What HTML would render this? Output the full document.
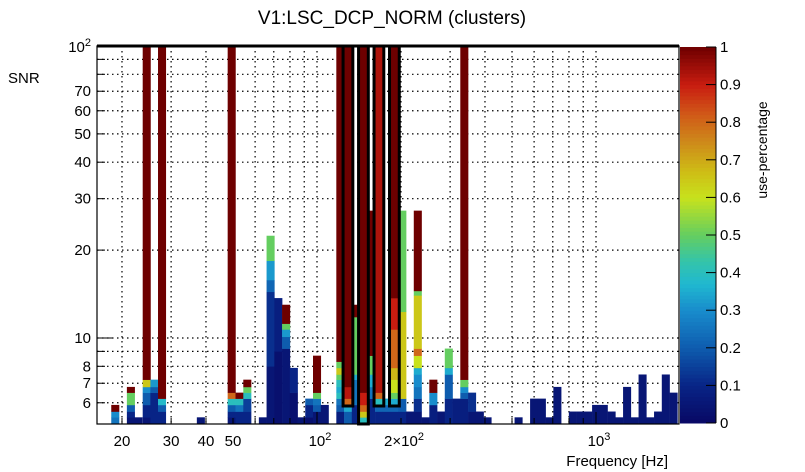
<!DOCTYPE html>
<html><head><meta charset="utf-8"><style>
body{margin:0;background:#fff;}
svg{display:block;font-family:"Liberation Sans",sans-serif;}
</style></head><body>
<svg id="chart" width="805" height="472" viewBox="0 0 805 472" xmlns="http://www.w3.org/2000/svg">
<rect width="805" height="472" fill="#fff"/>
<text x="392" y="24" font-size="19" text-anchor="middle">V1:LSC_DCP_NORM (clusters)</text>
<text x="8" y="83" font-size="15">SNR</text>
<text x="668" y="466" font-size="15" text-anchor="end">Frequency [Hz]</text>
<text transform="translate(767,150) rotate(-90)" font-size="14" text-anchor="middle">use-percentage</text>
<g id="grid"></g><g id="cells"></g><g id="boxes"></g><g id="axes"></g><g id="cbar"></g>
</svg>
<script>
const binFreqs=[18.9,21.5,22.9,24.5,26.1,27.8,38.3,49.4,52.7,56.2,63.9,68.1,72.6,77.4,82.5,87.9,93.7,99.9,106.5,121.1,129.1,137.6,146.7,156.3,166.7,177.7,189.4,202.0,215.3,229.5,244.7,260.9,278.1,296.4,316.0,336.9,359.2,382.9,408.1,527.2,599.3,638.9,681.1,726.2,825.2,879.7,937.7,999.6,1065,1136,1211,1291,1376,1467,1564,1667,1777,1895];
const binSegs=[
[[5.35,0.25],[5.6,0.3],[5.9,1]],
[[5.35,0.05],[5.6,0.1],[5.9,0.2],[6.5,0.5],[6.8,1]],
[[5.35,0.05]],
[[5.35,0.05],[5.9,0.1],[6.5,0.2],[6.8,0.3],[7.2,0.65],[100,1]],
[[6.5,0.1],[6.8,0.2],[7.2,0.32]],
[[5.6,0.1],[5.9,0.2],[6.2,0.38],[100,1]],
[[5.35,0.05]],
[[5.35,0.05],[5.6,0.1],[5.9,0.2],[6.2,0.4],[6.5,0.8],[100,1]],
[[5.6,0.1],[5.9,0.25],[6.2,0.4],[6.5,1]],
[[5.6,0.1],[6.2,0.15],[6.5,0.4],[6.8,0.5],[7.2,1]],
[[5.35,0.05]],
[[8,0.05],[14.4,0.12],[15.8,0.22],[18.4,0.32],[22.4,0.5]],
[[9,0.03],[13.7,0.08]],
[[9.2,0.05],[10.1,0.2],[10.7,0.32],[11.2,0.5],[13.0,1]],
[[6.5,0.03],[7.9,0.1]],
[[5.35,0.05]],
[[5.35,0.03],[5.9,0.1],[6.2,0.2]],
[[5.6,0.05],[5.9,0.2],[6.2,0.25],[6.5,0.5],[8.7,1]],
[[5.9,0.05]],
[[5.6,0.08],[5.9,0.2],[6.2,0.25],[6.5,0.4],[6.8,0.35],[7.2,0.4],[7.5,0.5],[7.9,0.65],[8.3,0.5],[100,1]],
[[5.6,0.2],[5.9,0.35],[6.2,0.8],[6.8,0.92],[100,1]],
[[5.9,0.1],[7.2,0.25],[7.5,0.35],[11.8,0.5],[13.0,1]],
[[5.35,0.4],[5.6,0.65],[5.9,0.8],[6.5,0.9],[100,1]],
[[6.2,0.1],[6.8,0.25],[7.5,0.35],[8.7,0.5],[27.3,1]],
[[5.6,0.1],[5.9,0.22],[6.2,0.4],[6.5,0.8],[100,0.93]],
[[5.6,0.1],[5.9,0.22],[6.2,0.35]],
[[5.6,0.1],[5.9,0.22],[6.2,0.35],[6.5,0.5],[7.2,0.6],[7.9,0.68],[10.7,0.8],[13.7,0.9],[100,1]],
[[5.6,0.1],[6.2,0.2],[12.3,0.65],[27.3,0.5]],
[[5.6,0.05]],
[[5.6,0.05],[6.2,0.12],[6.8,0.25],[7.5,0.3],[7.9,0.35],[8.7,0.6],[9.2,0.8],[14.0,0.65],[14.5,0.5],[27.3,1]],
[[5.35,0.05]],
[[5.9,0.08],[6.5,0.3],[7.2,1]],
[[5.6,0.05]],
[[6.2,0.1],[7.5,0.2],[7.9,0.35],[9.2,0.5]],
[[6.2,0.08]],
[[6.2,0.08],[6.5,0.2],[6.8,0.3],[7.2,0.5],[100,1]],
[[5.6,0.05],[6.5,0.12]],
[[5.6,0.05]],
[[5.35,0.05]],
[[5.35,0.05]],
[[6.2,0.05]],
[[6.2,0.05]],
[[5.35,0.05]],
[[6.8,0.05]],
[[5.6,0.05]],[[5.6,0.05]],[[5.6,0.05]],
[[5.9,0.05]],[[5.9,0.05]],
[[5.6,0.05]],
[[5.35,0.05]],
[[6.8,0.05]],
[[5.35,0.05]],
[[7.5,0.05]],
[[5.35,0.05]],
[[5.6,0.05]],
[[7.5,0.05]],
[[6.5,0.05]]
];
const boxFreqs=[129.1,146.7,166.7,189.4];
const boxLows=[5.85,5.077,5.85,5.85];
const yGridVals=[6,7,8,9,10,20,30,40,50,60,70,80,90];
const yLabelVals=[6,7,8,10,20,30,40,50,60,70];
const xGridVals=[20,30,40,50,60,70,80,90,100,200,300,400,500,600,700,800,900,1000];
const xLabelVals=[20,30,40,50];
const cbarTicks=[0,0.1,0.2,0.3,0.4,0.5,0.6,0.7,0.8,0.9,1];

const NS="http://www.w3.org/2000/svg";
const L=97,R=679,T=46,B=424,BW=7.75;
const xS=f=>317+279*(Math.log10(f)-2);
const yS=s=>Math.min(B,46+292*(2-Math.log10(s)));
const YMIN=5.077;
const stops=[[0,[8,8,100]],[0.1,[8,36,134]],[0.2,[14,92,174]],[0.3,[24,140,204]],[0.37,[32,184,208]],[0.43,[52,196,170]],[0.5,[100,206,96]],[0.6,[200,226,28]],[0.67,[206,188,22]],[0.75,[206,136,26]],[0.82,[208,90,24]],[0.9,[200,28,16]],[1,[110,0,0]]];
function col(v){for(let i=1;i<stops.length;i++){if(v<=stops[i][0]){const a=stops[i-1],b=stops[i],t=(v-a[0])/(b[0]-a[0]);return 'rgb('+a[1].map((c,j)=>Math.round(c+(b[1][j]-c)*t)).join(',')+')';}}return 'rgb(110,0,0)';}
function mk(tag,attrs,parent){const e=document.createElementNS(NS,tag);for(const k in attrs)e.setAttribute(k,attrs[k]);parent.appendChild(e);return e;}
const grid=document.getElementById('grid'),cells=document.getElementById('cells'),boxes=document.getElementById('boxes'),axes=document.getElementById('axes'),cbar=document.getElementById('cbar');
yGridVals.forEach(v=>{const e=mk('line',{x1:L,x2:R,y1:yS(v),y2:yS(v),stroke:'#000','stroke-width':1.2,'stroke-dasharray':'1.5 3.5'},grid);

});
xGridVals.forEach(v=>{const e=mk('line',{x1:xS(v),x2:xS(v),y1:T,y2:B,stroke:'#000','stroke-width':1.2,'stroke-dasharray':'1.5 3.5'},grid);

});
binFreqs.forEach((f,i)=>{const cx=xS(f);let lo=YMIN;binSegs[i].forEach(sg=>{const y1=yS(sg[0]),y0=yS(lo);const r=mk('rect',{x:(cx-BW/2).toFixed(2),y:y1.toFixed(2),width:BW+0.3,height:Math.max(0,y0-y1+0.3).toFixed(2),fill:col(sg[1])},cells);


lo=sg[0];});});
boxFreqs.forEach((f,i)=>{const cx=xS(f);const r=mk('rect',{x:cx-BW/2-1,y:T,width:BW+2,height:yS(boxLows[i])-T,fill:'none',stroke:'#000','stroke-width':3},boxes);

});
const fr=mk('rect',{x:L,y:T,width:R-L,height:B-T,fill:'none',stroke:'#000','stroke-width':1.2},axes);


const tl=mk('line',{x1:L,x2:R,y1:T,y2:T,stroke:'#000','stroke-width':3},axes);


xGridVals.forEach(v=>{const major=(v===100||v===1000);mk('line',{x1:xS(v),x2:xS(v),y1:B,y2:B-(major?12:6),stroke:'#000'},axes);});
yGridVals.concat([100]).forEach(v=>{const major=(v===10||v===100);mk('line',{x1:L,x2:L+(major?16:8),y1:yS(v),y2:yS(v),stroke:'#000'},axes);});
yLabelVals.forEach(v=>{const t=mk('text',{x:L-6,y:yS(v)+5,'font-size':15,'text-anchor':'end'},axes);t.textContent=v;

});
{const t=mk('text',{x:L-6,y:T+6,'font-size':15,'text-anchor':'end'},axes);t.innerHTML='10<tspan dy="-6" font-size="11">2</tspan>';

}
xLabelVals.forEach(v=>{const t=mk('text',{x:xS(v),y:446,'font-size':15,'text-anchor':'middle'},axes);t.textContent=v;

});
[[100,'10','2',''],[200,'2×10','2',''],[1000,'10','3','']].forEach(a=>{const t=mk('text',{x:xS(a[0])+3,y:446,'font-size':15,'text-anchor':'middle'},axes);t.innerHTML=a[1]+'<tspan dy="-6" font-size="11">'+a[2]+'</tspan>';

});
const CX=680,CW=36,CT=47,CB=423;
for(let i=0;i<100;i++){const v0=i/100;const r=mk('rect',{x:CX,y:(CB-(CB-CT)*(v0+0.01)).toFixed(2),width:CW,height:((CB-CT)/100+0.5).toFixed(2),fill:col(v0+0.005)},cbar);

}
mk('line',{x1:CX+CW,x2:CX+CW,y1:CT,y2:CB,stroke:'#000'},cbar);
cbarTicks.forEach(v=>{const y=CB-(CB-CT)*v;mk('line',{x1:CX+CW-10,x2:CX+CW,y1:y,y2:y,stroke:'#000'},cbar);const t=mk('text',{x:CX+CW+4,y:y+5,'font-size':15},cbar);t.textContent=v;

});
</script>
</body></html>
